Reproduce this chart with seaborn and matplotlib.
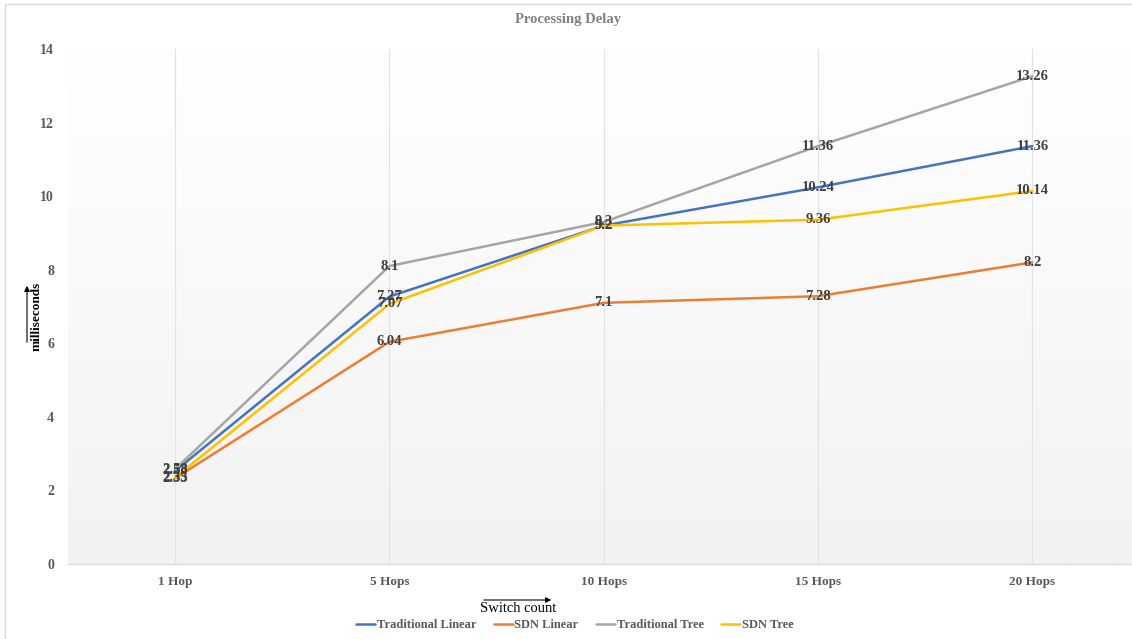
import numpy as np
import pandas as pd
import matplotlib
matplotlib.use("Agg")
import matplotlib.pyplot as plt
from matplotlib.patches import Rectangle
import seaborn as sns

# Chart data
hops = ["1 Hop", "5 Hops", "10 Hops", "15 Hops", "20 Hops"]
series_names = ["Traditional Linear", "SDN Linear", "Traditional Tree", "SDN Tree"]
traditional_linear = [2.53, 7.27, 9.2, 10.24, 11.36]
sdn_linear = [2.33, 6.04, 7.1, 7.28, 8.2]
traditional_tree = [2.58, 8.1, 9.3, 11.36, 13.26]
sdn_tree = [2.35, 7.07, 9.2, 9.36, 10.14]
y_ticks = [0, 2, 4, 6, 8, 10, 12, 14]

colors = ["#4472C4", "#ED7D31", "#A5A5A5", "#FFC000"]

# Build long-form table
rows = []
for name, vals in zip(series_names, [traditional_linear, sdn_linear, traditional_tree, sdn_tree]):
    for h, v in zip(hops, vals):
        rows.append({"Hops": h, "Series": name, "Delay": v})
df = pd.DataFrame(rows)
df["pos"] = df["Hops"].map({h: i for i, h in enumerate(hops)})

sns.set_style("white")
plt.rcParams["font.family"] = ["Liberation Serif", "DejaVu Serif"]

W, H = 1132, 639
fig = plt.figure(figsize=(W / 100, H / 100), dpi=100)
ax = fig.add_axes([68 / W, (H - 564) / H, 1071.5 / W, (564 - 49) / H])

# Plot area gradient background
grad = np.linspace(0, 1, 256).reshape(-1, 1)
cmap = matplotlib.colors.LinearSegmentedColormap.from_list("bg", ["#F2F2F2", "#FFFFFF"])
ax.imshow(grad, extent=[0, 1, 0, 1], transform=ax.transAxes, cmap=cmap,
          aspect="auto", origin="lower", zorder=0)

sns.lineplot(data=df, x="pos", y="Delay", hue="Series", palette=colors,
             hue_order=series_names, sort=False, linewidth=1.8, ax=ax, zorder=3)

# Data labels
for name, vals in zip(series_names, [traditional_linear, sdn_linear, traditional_tree, sdn_tree]):
    for i, v in enumerate(vals):
        ax.text(i, v, f"{v:g}", ha="center", va="center", fontsize=10.5,
                fontweight="bold", color="#404040", zorder=4)

ax.set_xlim(-0.5, 4.5)
ax.set_ylim(0, 14)
ax.set_xticks(range(len(hops)))
ax.set_xticklabels(hops, fontsize=9.5, fontweight="bold", color="#595959")
ax.set_yticks(y_ticks)
ax.set_yticklabels([str(t) for t in y_ticks], fontsize=10, fontweight="bold", color="#595959")
ax.tick_params(axis="both", length=0)
ax.tick_params(axis="x", pad=9)
ax.tick_params(axis="y", pad=10)
ax.xaxis.grid(True, color="#E3E3E3", linewidth=0.8, zorder=1)
ax.set_axisbelow(True)
for s in ["top", "right", "left"]:
    ax.spines[s].set_visible(False)
ax.spines["bottom"].set_color("#D9D9D9")
ax.set_xlabel("")
ax.set_ylabel("")

# Legend
handles, labels = ax.get_legend_handles_labels()
ax.legend_.remove()
leg = fig.legend(handles, labels, loc="center", bbox_to_anchor=(575 / W, 1 - 625 / H),
                 ncol=4, frameon=False, handlelength=1.5, columnspacing=1.4,
                 handletextpad=0.15, prop={"size": 9, "weight": "bold"})
for t in leg.get_texts():
    t.set_color("#595959")

# Title
fig.text(568 / W, 1 - 20 / H, "Processing Delay", ha="center", va="center",
         fontsize=10.5, fontweight="bold", color="#808080")

# Axis labels with arrows
fig.text(37 / W, 1 - 316 / H, "milliseconds", rotation=90, ha="center", va="center",
         fontsize=9.5, fontweight="bold", color="black")
ax.annotate("", xy=(27, H - 283), xytext=(27, H - 345), xycoords="figure pixels",
            textcoords="figure pixels",
            arrowprops=dict(arrowstyle="-|>", color="black", lw=0.8, mutation_scale=8))
fig.text(518 / W, 1 - 609 / H, "Switch count", ha="center", va="center",
         fontsize=10.5, color="black")
ax.annotate("", xy=(554, H - 600), xytext=(481, H - 600), xycoords="figure pixels",
            textcoords="figure pixels",
            arrowprops=dict(arrowstyle="-|>", color="black", lw=0.8, mutation_scale=8))

# Chart border
fig.patches.append(Rectangle((5 / W, -0.01), 1.0, 1 - 4 / H + 0.01, transform=fig.transFigure,
                             fill=False, edgecolor="#D9D9D9", linewidth=1))

fig.savefig("out.png", dpi=100)
